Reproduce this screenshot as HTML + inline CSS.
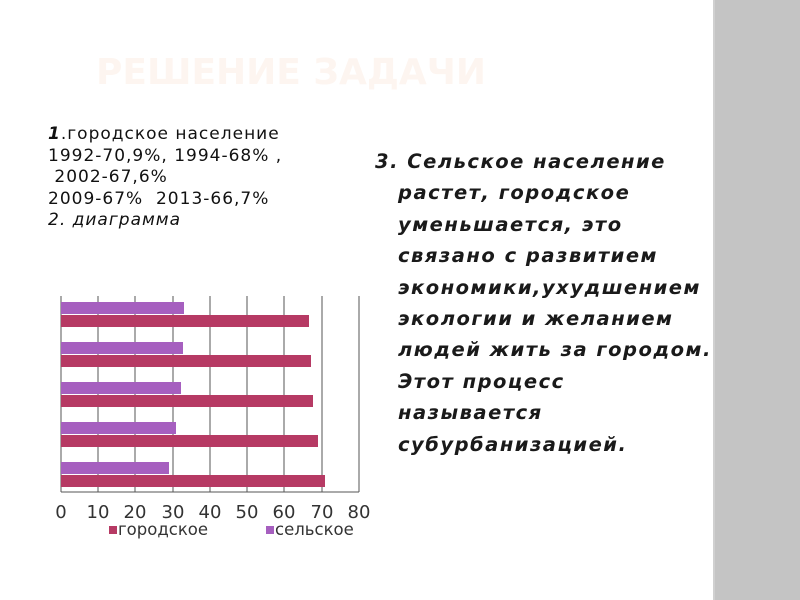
<!DOCTYPE html><html><head><meta charset="utf-8"><style>
body{margin:0;width:800px;height:600px;background:#fff;position:relative;overflow:hidden;font-family:"DejaVu Sans","Liberation Sans",sans-serif}
.band{position:absolute;left:713px;top:0;width:87px;height:600px;background:#c4c4c4;border-left:2px solid #d0d0d0}
.t{position:absolute;white-space:nowrap;color:#111}
</style></head><body>
<div class="band"></div>
<div class="t" style="left:96px;top:52px;font-size:36px;font-weight:bold;color:#fdf5f0">РЕШЕНИЕ ЗАДАЧИ</div>
<div class="t" style="left:48px;top:124px;font-size:17px;line-height:21.5px;letter-spacing:1px">
<i><b>1</b></i>.городское население<br>1992-70,9%, 1994-68% ,<br>&nbsp;2002-67,6%<br>2009-67%&nbsp; 2013-66,7%<br><i>2. диаграмма</i></div>
<div class="t" style="left:375px;top:146px;font-size:19.5px;line-height:31.4px;font-style:italic;font-weight:bold;color:#1a1a1a;letter-spacing:1.5px">3. Сельское население<br><span style="padding-left:23px">растет, городское</span><br><span style="padding-left:23px">уменьшается, это</span><br><span style="padding-left:23px">связано с развитием</span><br><span style="padding-left:23px">экономики,ухудшением</span><br><span style="padding-left:23px">экологии и желанием</span><br><span style="padding-left:23px">людей жить за городом.</span><br><span style="padding-left:23px">Этот процесс</span><br><span style="padding-left:23px">называется</span><br><span style="padding-left:23px">субурбанизацией.</span></div>
<svg width="800" height="600" style="position:absolute;left:0;top:0">
<g stroke="#555" stroke-width="1">
<line x1="61" y1="296" x2="61" y2="492"/><line x1="98" y1="296" x2="98" y2="492"/><line x1="135" y1="296" x2="135" y2="492"/><line x1="173" y1="296" x2="173" y2="492"/><line x1="210" y1="296" x2="210" y2="492"/><line x1="247" y1="296" x2="247" y2="492"/><line x1="284" y1="296" x2="284" y2="492"/><line x1="322" y1="296" x2="322" y2="492"/><line x1="359" y1="296" x2="359" y2="492"/>
<line x1="61" y1="492" x2="359" y2="492"/>
</g>
<g fill="#a65fbf">
<rect x="61" y="302" width="123" height="12"/><rect x="61" y="342" width="122" height="12"/><rect x="61" y="382" width="120" height="12"/><rect x="61" y="422" width="115" height="12"/><rect x="61" y="462" width="108" height="12"/>
</g>
<g fill="#b63a64">
<rect x="61" y="315" width="248" height="12"/><rect x="61" y="355" width="250" height="12"/><rect x="61" y="395" width="252" height="12"/><rect x="61" y="435" width="257" height="12"/><rect x="61" y="475" width="264" height="12"/>
</g>
<g font-family="DejaVu Sans,sans-serif" font-size="18" fill="#333" text-anchor="middle">
<text x="61" y="518">0</text><text x="98" y="518">10</text><text x="135" y="518">20</text><text x="173" y="518">30</text><text x="210" y="518">40</text><text x="247" y="518">50</text><text x="284" y="518">60</text><text x="322" y="518">70</text><text x="359" y="518">80</text>
</g>
<rect x="109" y="526" width="8" height="8" fill="#b63a64"/>
<text x="118" y="535" font-family="DejaVu Sans,sans-serif" font-size="16.5" fill="#333">городское</text>
<rect x="266" y="526" width="8" height="8" fill="#a65fbf"/>
<text x="275" y="535" font-family="DejaVu Sans,sans-serif" font-size="16.5" fill="#333">сельское</text>
</svg>
</body></html>
